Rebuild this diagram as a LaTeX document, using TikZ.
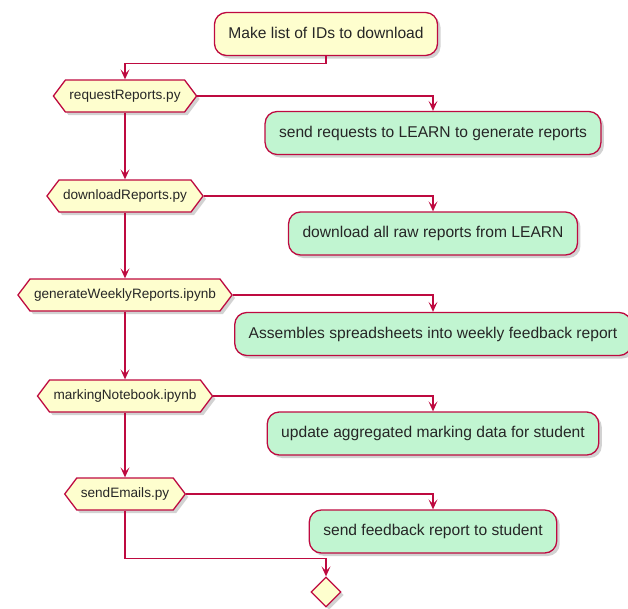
\documentclass[tikz,border=0pt]{standalone}
\usepackage{fontspec}
\setmainfont{Liberation Sans}
\usetikzlibrary{shapes.symbols,shapes.geometric,shadows,arrows.meta}

\definecolor{umlRed}{HTML}{BE0A40}
\definecolor{umlYellow}{HTML}{FEFECE}
\definecolor{umlGreen}{HTML}{C1F5D1}

\tikzset{
  Shadowed/.style={drop shadow={shadow xshift=3pt,shadow yshift=-3pt,opacity=0.25,fill=black!70}},
  ActionStyle/.style={draw=umlRed,line width=1.3pt,rounded corners=12pt,
    inner xsep=14pt,inner ysep=14pt,text height=11.5pt,text depth=3.5pt,
    text=black!85,font=\fontsize{15.6pt}{18pt}\selectfont,Shadowed},
  StartStyle/.style={ActionStyle,fill=umlYellow},
  TaskStyle/.style={ActionStyle,fill=umlGreen},
  ScriptStyle/.style={draw=umlRed,fill=umlYellow,line width=1.3pt,shape=signal,
    signal to=west and east,signal pointer angle=106,
    inner xsep=4pt,inner ysep=9.5pt,text height=10pt,text depth=3pt,
    text=black!85,font=\fontsize{13.6pt}{16pt}\selectfont,Shadowed},
  MergeStyle/.style={draw=umlRed,fill=umlYellow,line width=1.3pt,shape=diamond,
    minimum width=30pt,minimum height=30pt,inner sep=0pt,Shadowed},
  EdgeStyle/.style={draw=umlRed,line width=1.3pt,
    -{Stealth[length=10pt,width=9pt,inset=4.5pt]}}
}

\begin{document}
\begin{tikzpicture}[x=1pt,y=-1pt]
  \useasboundingbox (0,0) rectangle (628,608);

  \node[StartStyle] (s_0) at (326,34) {Make list of IDs to download};

  % scripts
  \node[ScriptStyle] (h_1) at (125,96) {requestReports.py};
  \node[ScriptStyle] (h_2) at (125,196) {downloadReports.py};
  \node[ScriptStyle] (h_3) at (125,295) {generateWeeklyReports.ipynb};
  \node[ScriptStyle] (h_4) at (125,396) {markingNotebook.ipynb};
  \node[ScriptStyle] (h_5) at (125,494) {sendEmails.py};

  % what each script does
  \node[TaskStyle] (a_1) at (433,133) {send requests to LEARN to generate reports};
  \node[TaskStyle] (a_2) at (433,233.5) {download all raw reports from LEARN};
  \node[TaskStyle] (a_3) at (433,334) {Assembles spreadsheets into weekly feedback report};
  \node[TaskStyle] (a_4) at (433,433.5) {update aggregated marking data for student};
  \node[TaskStyle] (a_5) at (433,531.5) {send feedback report to student};

  \node[MergeStyle] (e_0) at (326,592) {};

  \draw[EdgeStyle] (s_0.south) -- ++(0,7) -| (h_1.north);
  \draw[EdgeStyle] (h_1.east) -| (a_1.north);
  \draw[EdgeStyle] (h_1.south) -- (h_2.north);
  \draw[EdgeStyle] (h_2.east) -| (a_2.north);
  \draw[EdgeStyle] (h_2.south) -- (h_3.north);
  \draw[EdgeStyle] (h_3.east) -| (a_3.north);
  \draw[EdgeStyle] (h_3.south) -- (h_4.north);
  \draw[EdgeStyle] (h_4.east) -| (a_4.north);
  \draw[EdgeStyle] (h_4.south) -- (h_5.north);
  \draw[EdgeStyle] (h_5.east) -| (a_5.north);
  \draw[EdgeStyle] (h_5.south) -- ++(0,48) -| (e_0.north);
\end{tikzpicture}
\end{document}
